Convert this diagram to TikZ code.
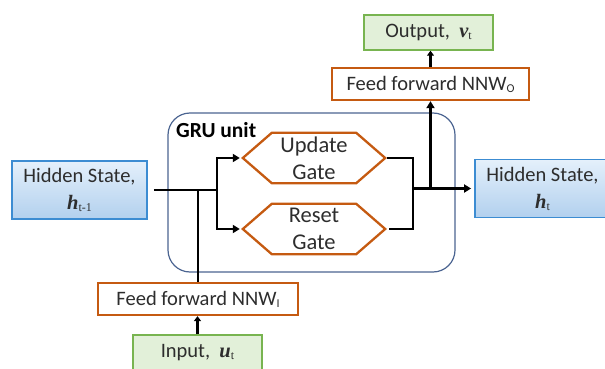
\documentclass[tikz,border=0pt]{standalone}
\usepackage{fontspec}
\setmainfont{Carlito}
\newfontfamily\mathserif{Liberation Serif}
\usetikzlibrary{arrows.meta,calc}
\definecolor{gorange}{RGB}{197,90,17}
\definecolor{bborder}{RGB}{60,140,210}
\definecolor{btop}{RGB}{228,240,251}
\definecolor{bbot}{RGB}{178,208,238}
\definecolor{gfill}{RGB}{226,240,217}
\definecolor{gborder}{RGB}{120,180,80}
\definecolor{gruline}{RGB}{75,100,145}
\definecolor{txt}{RGB}{45,45,45}
\newcommand{\bvar}[2]{{\mathserif\bfseries\itshape #1}{\mathserif\fontsize{12}{12}\selectfont\raisebox{-2pt}{#2}}}
\newcommand{\smallsub}[1]{{\fontsize{12}{12}\selectfont\raisebox{-2pt}{#1}}}
\begin{document}
\begin{tikzpicture}[x=1pt,y=-1pt,
  hidbox/.style={draw=bborder, line width=1.8pt, top color=btop, bottom color=bbot,
    minimum width=135pt, minimum height=58pt, align=center, inner sep=0pt,
    text=txt, font=\fontsize{20.5}{27}\selectfont},
  ffbox/.style={draw=gorange, line width=2.3pt, fill=white, minimum height=32pt,
    inner sep=0pt, text=txt, font=\fontsize{20.5}{22}\selectfont},
  iobox/.style={draw=gborder, line width=1.5pt, fill=gfill, minimum width=129pt,
    minimum height=35pt, inner sep=0pt, text=txt, font=\fontsize{20.5}{22}\selectfont},
  gatenode/.style={minimum width=142pt, minimum height=50pt, inner sep=0pt,
    align=center, text=txt, font=\fontsize{22.5}{27}\selectfont},
  hexline/.style={draw=gorange, line width=2.3pt, line join=miter},
  grubox/.style={draw=gruline, line width=1.2pt, rounded corners=22pt,
    minimum width=287pt, minimum height=159pt, inner sep=0pt},
  conn/.style={line width=2.5pt, black},
  arr/.style={conn, -{Triangle[length=7pt,width=8pt]}},
  sarr/.style={conn, -{Triangle[length=5pt,width=7pt]}}
]
\useasboundingbox (0,0) rectangle (605,369);
% GRU container
\node[grubox] (gru) at (311.5,192.5) {};
\node[anchor=base west, font=\bfseries\fontsize{21.5}{21.5}\selectfont, inner sep=0pt] (grulabel) at (176,137) {GRU unit};
% gates
\node[gatenode] (upd) at (314,158) {Update\\Gate};
\node[gatenode] (rst) at (314,229) {Reset\\Gate};
\foreach \g in {upd,rst}{
  \draw[hexline] (\g.west) -- ($(\g.north west)+(29,0)$) -- ($(\g.north east)+(-29,0)$)
    -- (\g.east) -- ($(\g.south east)+(-29,0)$) -- ($(\g.south west)+(29,0)$) -- cycle;
}
% hidden states
\node[hidbox] (hprev) at (79.5,190) {Hidden State,\\\bvar{h}{t-1}};
\node[hidbox] (hnext) at (542.5,188.5) {Hidden State,\\\bvar{h}{t}};
% feed forward nets
\node[ffbox, minimum width=197pt] (ffo) at (430.5,84) {Feed forward NNW\smallsub{O}};
\node[ffbox, minimum width=200pt] (ffi) at (198,299) {Feed forward NNW\smallsub{I}};
% input/output
\node[iobox] (out) at (428.5,32.5) {Output,\ \ \bvar{v}{t}};
\node[iobox] (inp) at (197.5,352.5) {Input,\ \ \bvar{u}{t}};
% junctions
\coordinate (j1) at (217,190);
\coordinate (j2) at (413,188.5);
% connectors
\draw[conn] ([xshift=6pt]hprev.east) -- (j1);
\draw[arr] (j1) |- ([xshift=-3pt]upd.west);
\draw[arr] (j1) |- ([xshift=-3pt]rst.west);
\draw[conn] (ffi.north) -- (ffi.north |- j1);
\draw[conn] ([xshift=2pt]upd.east) -| (j2);
\draw[conn] ([xshift=4pt]rst.east) -| (j2);
\draw[arr] (j2) -- ([xshift=-3pt]hnext.west);
\draw[arr] (ffo.south |- j2) -- (ffo.south);
\draw[sarr] (ffo.north) -- (ffo.north |- out.south);
\draw[sarr] (inp.north) -- (inp.north |- ffi.south);
\end{tikzpicture}
\end{document}
